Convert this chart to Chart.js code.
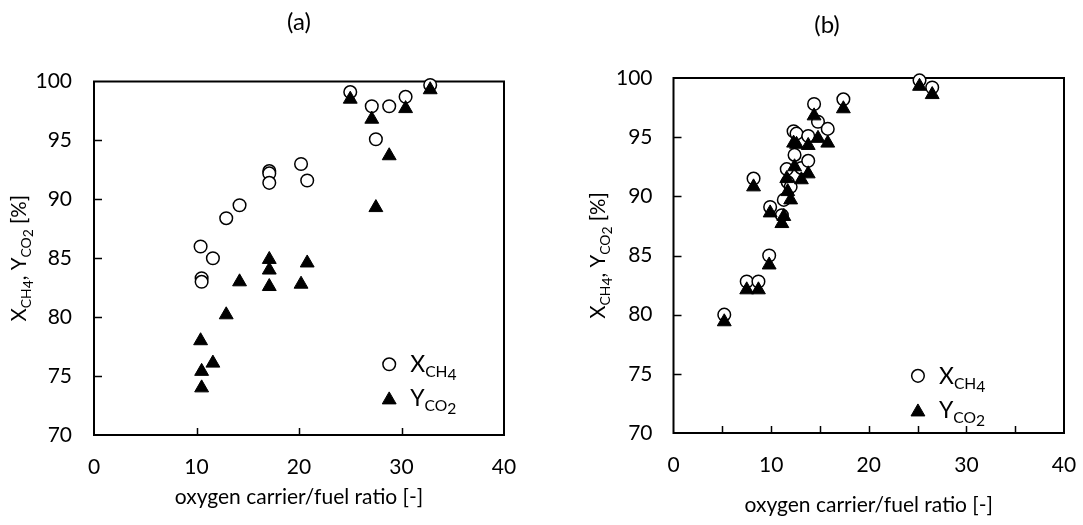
<!DOCTYPE html>
<html>
<head>
<meta charset="utf-8">
<script src="https://cdn.jsdelivr.net/npm/chart.js@4.4.1/dist/chart.umd.min.js"></script>
<style>
  html, body { margin: 0; padding: 0; background: #fff; }
  #wrap { position: relative; width: 1083px; height: 525px; overflow: hidden; }
  .panel { position: absolute; top: 0; height: 525px; }
  #pa { left: 0; width: 598px; }
  #pb { left: 571px; width: 512px; }
</style>
</head>
<body>
<div id="wrap">
  <div class="panel" id="pa"><canvas id="ca"></canvas></div>
  <div class="panel" id="pb"><canvas id="cb"></canvas></div>
</div>
<script>
// Panel (a): oxygen carrier/fuel ratio vs. CH4 conversion and CO2 yield
const ratioA = [10.4, 10.5, 10.5, 11.6, 12.9, 14.2, 17.1, 17.1, 17.1, 20.2, 20.8, 25.0, 27.1, 27.5, 28.8, 30.4, 32.8];
const xCH4A  = [86.0, 83.3, 83.0, 85.0, 88.4, 89.5, 92.4, 92.2, 91.4, 93.0, 91.6, 99.1, 97.9, 95.1, 97.9, 98.7, 99.7];
const yCO2A  = [78.0, 75.4, 74.0, 76.1, 80.2, 83.0, 84.9, 84.0, 82.6, 82.8, 84.6, 98.5, 96.8, 89.3, 93.7, 97.7, 99.3];

// Panel (b)
const ratioB = [5.2, 7.5, 8.7, 8.2, 9.8, 9.9, 11.1, 11.3, 11.6, 11.7, 12.0, 12.3, 12.6, 12.4, 13.1, 13.8, 13.8, 14.4, 14.8, 15.8, 17.4, 25.2, 26.5];
const xCH4B  = [80.0, 82.8, 82.8, 91.5, 85.0, 89.1, 88.4, 89.7, 92.3, 91.2, 90.8, 95.5, 95.3, 93.5, 92.4, 93.0, 95.1, 97.8, 96.3, 95.7, 98.2, 99.8, 99.2];
const yCO2B  = [79.4, 82.1, 82.1, 90.8, 84.2, 88.6, 87.7, 88.3, 91.5, 90.4, 89.7, 94.5, 94.4, 92.5, 91.4, 91.9, 94.3, 96.8, 94.9, 94.5, 97.4, 99.3, 98.6];

const xTickLabels = [0, 10, 20, 30, 40];
const yTickLabels = [70, 75, 80, 85, 90, 95, 100];

const FAMILY = 'Lato, "Open Sans", sans-serif';
const INK = '#000';

// label pieces with nested subscripts: k = size factor, dy = baseline shift (em)
const LBL_X = [{ t: 'X', k: 1, dy: 0 }, { t: 'CH', k: 0.68, dy: 0.22 }, { t: '4', k: 0.68, dy: 0.34 }];
const LBL_Y = [{ t: 'Y', k: 1, dy: 0 }, { t: 'CO', k: 0.68, dy: 0.22 }, { t: '2', k: 0.68, dy: 0.34 }];
const LBL_AXIS = [].concat(LBL_X, [{ t: ', ', k: 1, dy: 0 }], LBL_Y, [{ t: ' [%]', k: 1, dy: 0 }]);

function richWidth(ctx, segs, size) {
  let w = 0;
  segs.forEach(s => { ctx.font = `${size * s.k}px ${FAMILY}`; w += ctx.measureText(s.t).width; });
  return w;
}
function drawRich(ctx, segs, x, y, size) {
  let cx = x;
  ctx.textAlign = 'left';
  ctx.textBaseline = 'alphabetic';
  segs.forEach(s => {
    ctx.font = `${size * s.k}px ${FAMILY}`;
    ctx.fillText(s.t, cx, y + s.dy * size);
    cx += ctx.measureText(s.t).width;
  });
}

// frame, inward tick marks, panel caption, rotated y title and the marker key
const decor = {
  id: 'decor',
  beforeDatasetsDraw(chart, args, o) {
    const { ctx, chartArea: a, scales: { x, y } } = chart;
    ctx.save();
    ctx.strokeStyle = INK;
    ctx.lineWidth = 2;
    ctx.strokeRect(a.left, a.top, a.right - a.left, a.bottom - a.top);
    ctx.beginPath();
    for (let v = x.min + o.xMinor; v < x.max; v += o.xMinor) {
      const px = Math.round(x.getPixelForValue(v)) + 0.5;
      ctx.moveTo(px, a.bottom); ctx.lineTo(px, a.bottom - 7);
    }
    for (let v = y.min + 5; v < y.max; v += 5) {
      const py = Math.round(y.getPixelForValue(v)) + 0.5;
      ctx.moveTo(a.left, py); ctx.lineTo(a.left + 8, py);
    }
    ctx.lineWidth = 1.5;
    ctx.stroke();
    ctx.restore();
  },
  afterDraw(chart, args, o) {
    const { ctx, chartArea: a } = chart;
    ctx.save();
    ctx.fillStyle = INK;
    // panel caption
    ctx.font = `24px ${FAMILY}`;
    ctx.textAlign = 'center';
    ctx.textBaseline = 'middle';
    ctx.fillText(o.caption, o.captionX, o.captionY);

    // y axis title
    const ts = o.titleSize;
    const w = richWidth(ctx, LBL_AXIS, ts);
    ctx.translate(o.titleX, (a.top + a.bottom) / 2 + o.titleDy);
    ctx.rotate(-Math.PI / 2);
    drawRich(ctx, LBL_AXIS, -w / 2, ts * 0.36, ts);
    ctx.restore();

    // key
    ctx.save();
    const kx = a.left + o.keyX * (a.right - a.left);
    const rows = [o.keyY1, o.keyY2].map(f => a.top + f * (a.bottom - a.top));
    chart.data.datasets.forEach(ds => {
      const idx = ds.keyRow;
      ctx.fillStyle = ds.pointBackgroundColor;
      ctx.strokeStyle = ds.pointBorderColor;
      ctx.lineWidth = ds.pointBorderWidth;
      Chart.helpers.drawPoint(ctx, {
        pointStyle: ds.pointStyle, radius: ds.pointRadius, rotation: 0, borderWidth: ds.pointBorderWidth
      }, kx, rows[idx] + (ds.pointStyle === 'triangle' ? 2 : 0));
      ctx.fillStyle = INK;
      drawRich(ctx, idx === 0 ? LBL_X : LBL_Y, kx + 21, rows[idx] + 8, 23);
    });
    ctx.restore();
  }
};

function panel(id, cfg) {
  const font = { family: FAMILY, size: 21 };
  return new Chart(document.getElementById(id), {
    type: 'scatter',
    data: {
      datasets: [
        {
          label: 'X_CH4', keyRow: 0, order: 2, clip: false,
          data: cfg.ratio.map((r, i) => ({ x: r, y: cfg.xch4[i] })),
          pointStyle: 'circle', pointRadius: 6.3, pointBorderWidth: 1.5,
          pointBackgroundColor: '#fff', pointBorderColor: INK
        },
        {
          label: 'Y_CO2', keyRow: 1, order: 1, clip: false,
          data: cfg.ratio.map((r, i) => ({ x: r, y: cfg.yco2[i] })),
          pointStyle: 'triangle', pointRadius: 8, pointBorderWidth: 1,
          pointBackgroundColor: INK, pointBorderColor: INK
        }
      ]
    },
    options: {
      responsive: true, maintainAspectRatio: false, animation: false,
      events: [],
      layout: { padding: { left: 0, right: cfg.padRight, top: cfg.padTop, bottom: 0 } },
      plugins: {
        legend: { display: false },
        tooltip: { enabled: false },
        title: { display: false },
        decor: cfg.decor
      },
      scales: {
        x: {
          type: 'linear', min: xTickLabels[0], max: xTickLabels[xTickLabels.length - 1],
          afterBuildTicks: s => { s.ticks = xTickLabels.map(v => ({ value: v })); },
          ticks: { font, color: INK, padding: 20, maxRotation: 0 },
          grid: { display: false, drawTicks: false },
          border: { display: false },
          title: {
            display: true, text: 'oxygen carrier/fuel ratio [-]', color: INK,
            font: { family: FAMILY, size: 21 }, padding: { top: 0, bottom: cfg.xTitleBottom }
          },
          afterFit: s => {
            s.height = cfg.xHeight;
            // end labels only need half their width beside the frame
            s.paddingLeft = Math.min(s.paddingLeft, 12);
            s.paddingRight = Math.min(s.paddingRight, 12);
          }
        },
        y: {
          type: 'linear', min: yTickLabels[0], max: yTickLabels[yTickLabels.length - 1],
          afterBuildTicks: s => { s.ticks = yTickLabels.map(v => ({ value: v })); },
          ticks: { font, color: INK, padding: cfg.yPad },
          grid: { display: false, drawTicks: false },
          border: { display: false },
          afterFit: s => { s.width = cfg.yWidth; }
        }
      }
    },
    plugins: [decor]
  });
}

panel('ca', {
  ratio: ratioA, xch4: xCH4A, yco2: yCO2A,
  padTop: 81.5, padRight: 94, yWidth: 94, yPad: 22,
  xHeight: 90, xTitleBottom: 15,
  decor: { caption: '(a)', captionX: 299, captionY: 22,
           xMinor: 10, titleX: 19, titleDy: 0, titleSize: 20.5, keyX: 0.72, keyY1: 0.80, keyY2: 0.895 }
});

panel('cb', {
  ratio: ratioB, xch4: xCH4B, yco2: yCO2B,
  padTop: 78, padRight: 19, yWidth: 102.5, yPad: 21,
  xHeight: 92, xTitleBottom: 7,
  decor: { caption: '(b)', captionX: 256, captionY: 25,
           xMinor: 5, titleX: 27, titleDy: 0, titleSize: 20.5, keyX: 0.626, keyY1: 0.839, keyY2: 0.935 }
});
</script>
</body>
</html>
